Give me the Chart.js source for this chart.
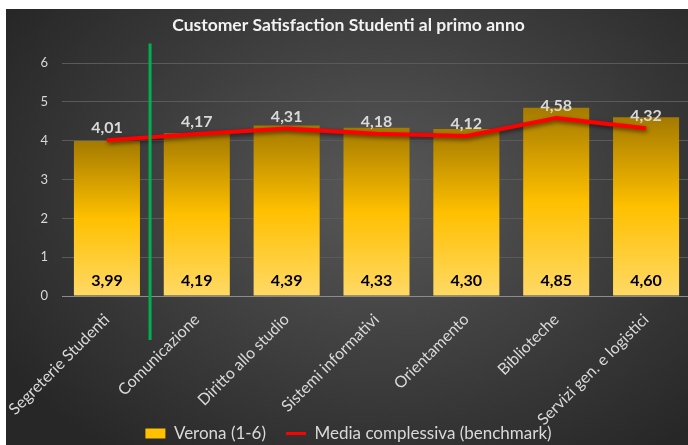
<!DOCTYPE html>
<html><head><meta charset="utf-8">
<script src="https://cdn.jsdelivr.net/npm/chart.js@4"></script>
<style>
html,body{margin:0;padding:0;width:688px;height:445px;overflow:hidden;background:#fff}
#wrap{position:absolute;left:6px;top:9px;width:682px;height:436px;background:radial-gradient(ellipse 65% 75% at 55% 42%, #585858 0%, #3d3d3d 55%, #272727 100%);}
#c{position:absolute;left:0;top:0}
</style></head><body>
<div id="wrap"><canvas id="c" width="685" height="443" style="width:685px;height:443px"></canvas></div>
<script>
const chartTitle = 'Customer Satisfaction Studenti al primo anno';
const categories = ['Segreterie Studenti','Comunicazione','Diritto allo studio','Sistemi informativi','Orientamento','Biblioteche','Servizi gen. e logistici'];
const veronaValues = [3.99, 4.19, 4.39, 4.33, 4.30, 4.85, 4.60];
const benchmarkValues = [4.01, 4.17, 4.31, 4.18, 4.12, 4.58, 4.32];
const seriesNames = ['Verona (1-6)', 'Media complessiva (benchmark)'];
const yMin = 0, yMax = 6, yStep = 1;

const FONT = 'Lato';
const fmt = v => v.toFixed(2).replace('.', ',');

function barGradient(ctx) {
  const chart = ctx.chart;
  if (!chart.chartArea || ctx.type !== 'data') return '#ffc000';
  const y = chart.scales.y;
  const top = y.getPixelForValue(ctx.parsed ? ctx.parsed.y : veronaValues[ctx.dataIndex]);
  const base = y.getPixelForValue(0);
  const g = chart.ctx.createLinearGradient(0, top, 0, base);
  g.addColorStop(0, '#a47a00');
  g.addColorStop(0.5, '#ffc000');
  g.addColorStop(1, '#ffd966');
  return g;
}

const labelPlugin = {
  id: 'valueLabels',
  beforeDatasetDraw(chart, args) {
    if (args.index === 1) {
      const c = chart.ctx; c.save();
      c.shadowColor = 'rgba(0,0,0,0.55)'; c.shadowBlur = 4; c.shadowOffsetX = 1; c.shadowOffsetY = 2;
    }
  },
  afterDatasetDraw(chart, args) {
    if (args.index === 1) chart.ctx.restore();
  },
  afterDatasetsDraw(chart) {
    const c = chart.ctx;
    c.save();
    c.textAlign = 'center';
    c.textBaseline = 'middle';
    c.font = 'bold 16px ' + FONT;
    const barMeta = chart.getDatasetMeta(0);
    barMeta.data.forEach((el, i) => {
      c.fillStyle = '#000';
      c.fillText(fmt(veronaValues[i]), el.x, el.base - 15);
    });
    const lineMeta = chart.getDatasetMeta(1);
    lineMeta.data.forEach((el, i) => {
      c.fillStyle = '#d9d9d9';
      c.fillText(fmt(benchmarkValues[i]), el.x, el.y - 12);
    });
    // green separator between first and second category
    const xs = chart.scales.x, ys = chart.scales.y;
    const p0 = xs.getPixelForValue(0), p1 = xs.getPixelForValue(1);
    const gx = p0 + (p1 - p0) * 0.48;
    c.strokeStyle = '#00b050';
    c.lineWidth = 3;
    c.beginPath();
    c.moveTo(gx, ys.getPixelForValue(6.5));
    c.lineTo(gx, ys.getPixelForValue(-1.13));
    c.stroke();
    c.restore();
  }
};

new Chart(document.getElementById('c'), {
  data: {
    labels: categories,
    datasets: [
      { type: 'bar', label: seriesNames[0], data: veronaValues, backgroundColor: barGradient,
        categoryPercentage: 1, barPercentage: 0.735, order: 2 },
      { type: 'line', label: seriesNames[1], data: benchmarkValues, borderColor: '#ff0000',
        borderWidth: 4, pointRadius: 0, tension: 0, fill: false, order: 1 }
    ]
  },
  options: {
    responsive: false,
    animation: false,
    devicePixelRatio: 1,
    layout: { padding: { left: 0, right: 0, top: 0, bottom: 0 } },
    plugins: {
      title: { display: true, text: chartTitle, color: '#f2f2f2',
        font: { family: FONT, size: 17.5, weight: 'bold' }, padding: { top: 6, bottom: 27 } },
      legend: { position: 'bottom',
        labels: { color: '#d9d9d9', font: { family: FONT, size: 17 }, usePointStyle: true,
          pointStyleWidth: 20, boxWidth: 20, boxHeight: 10, padding: 20,
          generateLabels: () => [
            { text: seriesNames[0], fillStyle: '#ffc000', strokeStyle: 'rgba(0,0,0,0)', lineWidth: 0,
              pointStyle: 'rect', datasetIndex: 0, fontColor: '#d9d9d9' },
            { text: seriesNames[1], fillStyle: '#ff0000', strokeStyle: '#ff0000', lineWidth: 3,
              pointStyle: 'line', datasetIndex: 1, fontColor: '#d9d9d9' }
          ] } },
      tooltip: { enabled: false }
    },
    scales: {
      x: {
        offset: true,
        grid: { display: false },
        border: { display: true, color: '#8c8c8c', width: 1 },
        ticks: { color: '#d9d9d9', font: { family: FONT, size: 16 }, minRotation: 45, maxRotation: 45, padding: 6 },
        afterFit: s => {
          s.height = 109; s.paddingLeft = 0; s.paddingRight = 0;
          s._computeLabelArea = () => undefined;
        }
      },
      y: {
        min: yMin, max: yMax,
        grid: { color: '#5a5a5a', drawTicks: false, lineWidth: 1 },
        border: { display: false },
        ticks: { stepSize: yStep, color: '#d9d9d9', font: { family: FONT, size: 13 }, padding: 14 },
        afterFit: s => { s.width = 56; }
      }
    }
  },
  plugins: [labelPlugin]
});
</script>
</body></html>
